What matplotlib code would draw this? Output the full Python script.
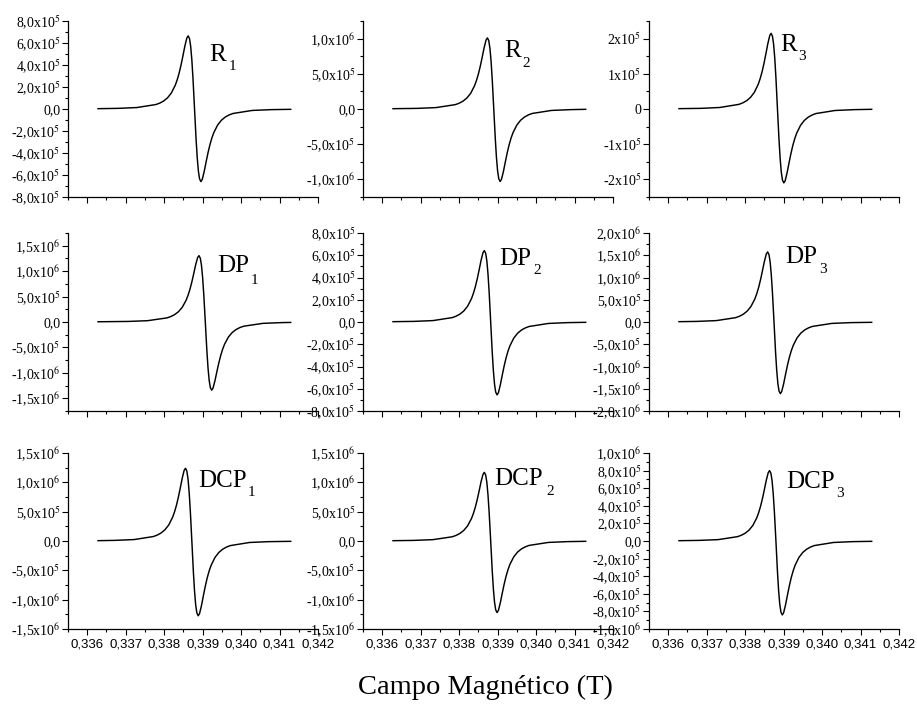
import numpy as np
import matplotlib
matplotlib.use("Agg")
import matplotlib.pyplot as plt
from matplotlib.ticker import MultipleLocator

plt.rcParams['mathtext.fontset'] = 'stix'
plt.rcParams['font.family'] = ['Liberation Serif', 'DejaVu Serif']

# ---------------- data: field in mT, signal in units of 1e5 ----------------
x_R1 = [336.28, 336.79, 337.29, 337.79, 337.89, 337.99, 338.09, 338.19, 338.29, 338.34, 338.39, 338.44, 338.49, 338.54, 338.59, 338.625, 338.66, 338.69, 338.72, 338.75, 338.79,
        338.83, 338.86, 338.89, 338.92, 338.955, 338.99, 339.04, 339.09, 339.14, 339.19, 339.24, 339.29, 339.39, 339.49, 339.59, 339.69, 339.79, 340.29, 340.79, 341.29]
y_R1 = [0.030, 0.057, 0.132, 0.409, 0.541, 0.734, 1.024, 1.470, 2.171, 2.664, 3.272, 4.013, 4.861, 5.746, 6.457, 6.650, 6.394, 5.686, 4.462, 2.758, 0.0,
        -2.737, -4.429, -5.643, -6.346, -6.6, -6.409, -5.702, -4.825, -3.982, -3.247, -2.644, -2.155, -1.459, -1.016, -0.729, -0.537, -0.406, -0.131, -0.057, -0.030]

x_R2 = [336.28, 336.90, 337.40, 337.90, 338.00, 338.10, 338.20, 338.30, 338.40, 338.45, 338.50, 338.55, 338.60, 338.65, 338.70, 338.735, 338.77, 338.80, 338.83, 338.86, 338.90,
        338.94, 338.97, 339.00, 339.03, 339.065, 339.10, 339.15, 339.20, 339.25, 339.30, 339.35, 339.40, 339.50, 339.60, 339.70, 339.80, 339.90, 340.40, 340.90, 341.29]
y_R2 = [0.045, 0.087, 0.200, 0.621, 0.821, 1.115, 1.555, 2.232, 3.298, 4.046, 4.969, 6.094, 7.383, 8.726, 9.807, 10.1, 9.711, 8.636, 6.777, 4.188, 0.0,
        -4.271, -6.911, -8.807, -9.903, -10.3, -10.001, -8.899, -7.529, -6.215, -5.068, -4.126, -3.363, -2.276, -1.586, -1.137, -0.837, -0.633, -0.204, -0.089, -0.046]

x_R3 = [336.28, 336.84, 337.34, 337.84, 337.94, 338.04, 338.14, 338.24, 338.34, 338.39, 338.44, 338.49, 338.54, 338.59, 338.64, 338.675, 338.71, 338.74, 338.77, 338.80, 338.84,
        338.88, 338.91, 338.94, 338.97, 339.005, 339.04, 339.09, 339.14, 339.19, 339.24, 339.29, 339.34, 339.44, 339.54, 339.64, 339.74, 339.84, 340.34, 340.84, 341.29]
y_R3 = [0.010, 0.018, 0.043, 0.132, 0.175, 0.237, 0.331, 0.475, 0.702, 0.861, 1.058, 1.297, 1.572, 1.858, 2.088, 2.15, 2.067, 1.838, 1.443, 0.892, 0.0,
        -0.871, -1.409, -1.796, -2.019, -2.1, -2.039, -1.814, -1.535, -1.267, -1.033, -0.841, -0.686, -0.464, -0.323, -0.232, -0.171, -0.129, -0.042, -0.018, -0.009]

x_DP1 = [336.28, 337.07, 337.57, 338.07, 338.17, 338.27, 338.37, 338.47, 338.57, 338.62, 338.67, 338.72, 338.77, 338.82, 338.87, 338.905, 338.94, 338.97, 339.00, 339.03, 339.07,
         339.11, 339.14, 339.17, 339.20, 339.235, 339.27, 339.32, 339.37, 339.42, 339.47, 339.52, 339.57, 339.67, 339.77, 339.87, 339.97, 340.07, 340.57, 341.07, 341.29]
y_DP1 = [0.045, 0.112, 0.258, 0.803, 1.061, 1.441, 2.010, 2.884, 4.261, 5.228, 6.421, 7.874, 9.540, 11.275, 12.672, 13.05, 12.548, 11.158, 8.757, 5.412, 0.0,
         -5.557, -8.991, -11.457, -12.884, -13.4, -13.011, -11.578, -9.795, -8.086, -6.593, -5.368, -4.375, -2.961, -2.064, -1.479, -1.089, -0.824, -0.265, -0.115, -0.085]

x_DP2 = [336.28, 336.82, 337.32, 337.82, 337.92, 338.02, 338.12, 338.22, 338.32, 338.37, 338.42, 338.47, 338.52, 338.57, 338.62, 338.655, 338.69, 338.72, 338.75, 338.78, 338.82,
         338.86, 338.89, 338.92, 338.95, 338.985, 339.02, 339.07, 339.12, 339.17, 339.22, 339.27, 339.32, 339.42, 339.52, 339.62, 339.72, 339.82, 340.32, 340.82, 341.29]
y_DP2 = [0.029, 0.055, 0.127, 0.395, 0.522, 0.709, 0.989, 1.419, 2.096, 2.572, 3.159, 3.874, 4.693, 5.547, 6.234, 6.42, 6.173, 5.489, 4.308, 2.662, 0.0,
         -2.716, -4.395, -5.600, -6.298, -6.55, -6.360, -5.659, -4.788, -3.952, -3.223, -2.624, -2.139, -1.448, -1.009, -0.723, -0.533, -0.403, -0.130, -0.056, -0.029]

x_DP3 = [336.28, 336.75, 337.25, 337.75, 337.85, 337.95, 338.05, 338.15, 338.25, 338.30, 338.35, 338.40, 338.45, 338.50, 338.55, 338.585, 338.62, 338.65, 338.68, 338.71, 338.75,
         338.79, 338.82, 338.85, 338.88, 338.915, 338.95, 339.00, 339.05, 339.10, 339.15, 339.20, 339.25, 339.35, 339.45, 339.55, 339.65, 339.75, 340.25, 340.75, 341.29]
y_DP3 = [0.071, 0.135, 0.312, 0.969, 1.280, 1.739, 2.426, 3.481, 5.142, 6.309, 7.749, 9.504, 11.513, 13.608, 15.293, 15.75, 15.144, 13.466, 10.568, 6.532, 0.0,
         -6.677, -10.803, -13.766, -15.480, -16.1, -15.633, -13.910, -11.769, -9.715, -7.921, -6.450, -5.257, -3.558, -2.479, -1.777, -1.309, -0.990, -0.319, -0.138, -0.072]

x_DCP1 = [336.28, 336.72, 337.22, 337.72, 337.82, 337.92, 338.02, 338.12, 338.22, 338.27, 338.32, 338.37, 338.42, 338.47, 338.52, 338.555, 338.59, 338.62, 338.65, 338.68, 338.72,
          338.76, 338.79, 338.82, 338.85, 338.885, 338.92, 338.97, 339.02, 339.07, 339.12, 339.17, 339.22, 339.32, 339.42, 339.52, 339.62, 339.72, 340.22, 340.72, 341.29]
y_DCP1 = [0.056, 0.107, 0.246, 0.763, 1.008, 1.369, 1.910, 2.740, 4.049, 4.967, 6.101, 7.482, 9.064, 10.714, 12.040, 12.4, 11.923, 10.602, 8.320, 5.142, 0.0,
          -5.287, -8.555, -10.901, -12.259, -12.75, -12.380, -11.016, -9.320, -7.693, -6.273, -5.108, -4.163, -2.818, -1.964, -1.408, -1.037, -0.784, -0.252, -0.110, -0.057]

x_DCP2 = [336.28, 336.82, 337.32, 337.82, 337.92, 338.02, 338.12, 338.22, 338.32, 338.37, 338.42, 338.47, 338.52, 338.57, 338.62, 338.655, 338.69, 338.72, 338.75, 338.78, 338.82,
          338.86, 338.89, 338.92, 338.95, 338.985, 339.02, 339.07, 339.12, 339.17, 339.22, 339.27, 339.32, 339.42, 339.52, 339.62, 339.72, 339.82, 340.32, 340.82, 341.29]
y_DCP2 = [0.053, 0.101, 0.232, 0.720, 0.951, 1.292, 1.802, 2.586, 3.820, 4.687, 5.756, 7.060, 8.553, 10.109, 11.361, 11.7, 11.250, 10.004, 7.851, 4.852, 0.0,
          -5.059, -8.186, -10.431, -11.730, -12.2, -11.846, -10.541, -8.918, -7.361, -6.002, -4.887, -3.983, -2.696, -1.879, -1.347, -0.992, -0.750, -0.242, -0.105, -0.055]

x_DCP3 = [336.28, 336.80, 337.30, 337.80, 337.90, 338.00, 338.10, 338.20, 338.30, 338.35, 338.40, 338.45, 338.50, 338.55, 338.60, 338.635, 338.67, 338.70, 338.73, 338.76, 338.80,
          338.84, 338.87, 338.90, 338.93, 338.965, 339.00, 339.05, 339.10, 339.15, 339.20, 339.25, 339.30, 339.40, 339.50, 339.60, 339.70, 339.80, 340.30, 340.80, 341.29]
y_DCP3 = [0.036, 0.069, 0.158, 0.492, 0.650, 0.883, 1.232, 1.768, 2.612, 3.205, 3.936, 4.827, 5.848, 6.912, 7.768, 8.0, 7.692, 6.840, 5.368, 3.318, 0.0,
          -3.483, -5.636, -7.182, -8.077, -8.4, -8.156, -7.258, -6.140, -5.069, -4.133, -3.365, -2.743, -1.856, -1.294, -0.927, -0.683, -0.517, -0.166, -0.072, -0.038]

names = ["R", "R", "R", "DP", "DP", "DP", "DCP", "DCP", "DCP"]
subs = ["1", "2", "3", "1", "2", "3", "1", "2", "3"]
xs = [x_R1, x_R2, x_R3, x_DP1, x_DP2, x_DP3, x_DCP1, x_DCP2, x_DCP3]
ys = [y_R1, y_R2, y_R3, y_DP1, y_DP2, y_DP3, y_DCP1, y_DCP2, y_DCP3]

# y axis: limit, major step, minor step, decimals in labels, largest labelled tick
ylims = [8e5, 1.25e6, 2.5e5, 1.75e6, 8e5, 2e6, 1.5e6, 1.5e6, 1e6]
ysteps = [2e5, 5e5, 1e5, 5e5, 2e5, 5e5, 5e5, 5e5, 2e5]
yminor = [1e5, 2.5e5, 0.5e5, 2.5e5, 1e5, 2.5e5, 2.5e5, 2.5e5, 1e5]
ydec = [1, 1, 0, 1, 1, 1, 1, 1, 1]
ytickmax = [8e5, 1e6, 2e5, 1.5e6, 8e5, 2e6, 1.5e6, 1.5e6, 1e6]

xticks = [0.336, 0.337, 0.338, 0.339, 0.340, 0.341, 0.342]
xticklabels = ["0,336", "0,337", "0,338", "0,339", "0,340", "0,341", "0,342"]

xlabel_text = "Campo Magnético (T)"

# label positions in pixels (main text left/baseline, subscript left/baseline)
label_pos = [((209, 61), (229, 70)), ((504, 57), (522, 67)), ((780, 51), (798, 60)),
             ((217, 272), (251, 284)), ((499, 265), (533, 274)), ((785, 263), (819, 273)),
             ((198, 487), (248, 496)), ((494, 485), (546, 495)), ((786, 488), (836, 497))]


def ylab(v, dec):
    if abs(v) < 1e-9:
        return "0,0" if dec else "0"
    e = int(np.floor(np.log10(abs(v)) + 1e-9))
    m = v / 10 ** e
    s = f"{m:.{dec}f}".replace('.', ',')
    return s + r"x10$^{%d}$" % e


W, H = 917, 724
fig = plt.figure(figsize=(W / 100, H / 100), dpi=100)

col_left = [68, 363, 649]
ax_w = 250
rows = [(21, 197), (233, 411), (453, 629)]

for i in range(9):
    r, c = divmod(i, 3)
    top, bot = rows[r]
    ax = fig.add_axes([col_left[c] / W, 1 - bot / H, ax_w / W, (bot - top) / H])
    ax.patch.set_alpha(0)
    for s in ("top", "right"):
        ax.spines[s].set_visible(False)
    for s in ("left", "bottom"):
        ax.spines[s].set_linewidth(0.9)
    ax.plot(np.array(xs[i]) / 1000.0, np.array(ys[i]) * 1e5, color="black", lw=1.05)
    ax.set_xlim(0.3355, 0.342)
    ax.set_ylim(-ylims[i], ylims[i])
    ax.set_xticks(xticks)
    if r == 2:
        ax.set_xticklabels(xticklabels, fontfamily="Liberation Sans", fontsize=9.5)
    else:
        ax.tick_params(axis="x", labelbottom=False)
    ax.xaxis.set_minor_locator(MultipleLocator(0.0005))
    tmax = ytickmax[i]
    yt = np.arange(-tmax, tmax + ysteps[i] / 2, ysteps[i])
    ax.set_yticks(yt)
    ax.set_yticklabels([ylab(v, ydec[i]) for v in yt], fontsize=10)
    ax.yaxis.set_minor_locator(MultipleLocator(yminor[i]))
    ax.tick_params(which="major", direction="out", length=4, width=0.8, pad=1.5)
    ax.tick_params(which="minor", direction="out", length=2.5, width=0.8)
    ax.tick_params(axis="x", which="major", pad=3)

    (mx, my), (sx, sy) = label_pos[i]
    fig.text(mx / W, 1 - my / H, names[i], fontsize=18, va="baseline", ha="left")
    fig.text(sx / W, 1 - sy / H, subs[i], fontsize=11, va="baseline", ha="left")

fig.text(485 / W, 1 - 687 / H, xlabel_text, fontsize=20.5, ha="center", va="center")

fig.savefig("out.png", dpi=100)
